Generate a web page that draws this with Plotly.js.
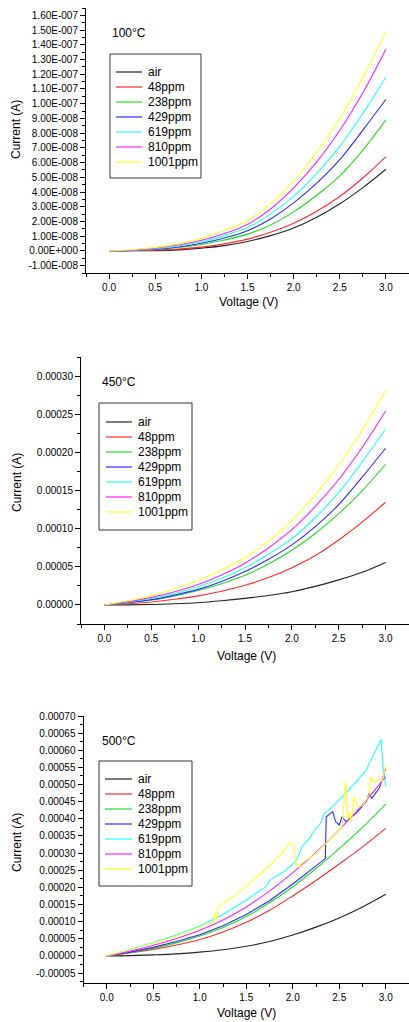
<!DOCTYPE html>
<html><head><meta charset="utf-8">
<script src="https://cdn.plot.ly/plotly-3.0.1.min.js"></script>
<style>html,body{margin:0;padding:0;background:#fff}</style>
</head><body><div id="chart" style="width:409px;height:1022px"></div>
<script>
// ---------- data ----------
const seriesNames = ['air','48ppm','238ppm','429ppm','619ppm','810ppm','1001ppm'];
const seriesColors = ['#222222','#ff2a2a','#22dd22','#2a2aff','#22ffff','#ff22ff','#ffff22'];
const panelTitles = ['100°C','450°C','500°C'];
const voltage = [0,0.25,0.5,0.75,1.0,1.25,1.5,1.75,2.0,2.25,2.5,2.75,3.0];

// 100 °C (values in units of 1e-8 A)
const air100  = [0,0.01,0.02,0.07,0.19,0.36,0.64,1.04,1.55,2.28,3.2,4.3,5.55];
const p48_100 = [0,0.02,0.05,0.12,0.26,0.48,0.8,1.27,1.88,2.7,3.7,4.95,6.4];
const p238_100= [0,0.03,0.1,0.23,0.44,0.74,1.14,1.76,2.65,3.78,5.1,6.85,8.9];
const p429_100= [0,0.04,0.12,0.27,0.52,0.88,1.37,2.17,3.26,4.6,6.2,8.2,10.3];
const p619_100= [0,0.05,0.15,0.33,0.62,1.04,1.6,2.5,3.72,5.27,7.1,9.35,11.8];
const p810_100= [0,0.06,0.19,0.4,0.72,1.18,1.8,2.85,4.28,6.05,8.2,10.75,13.7];
const p1001_100=[0,0.08,0.24,0.48,0.85,1.38,2.05,3.2,4.75,6.7,9.0,11.8,14.9];

// 450 °C (values in units of 1e-5 A)
const air450  = [0,0.02,0.07,0.16,0.3,0.55,0.87,1.25,1.75,2.45,3.3,4.3,5.6];
const p48_450 = [0,0.17,0.4,0.75,1.2,1.8,2.6,3.6,4.9,6.5,8.55,10.9,13.5];
const p238_450= [0,0.3,0.65,1.2,1.9,2.8,3.9,5.4,7.2,9.4,12.0,15.0,18.5];
const p429_450= [0,0.32,0.7,1.3,2.05,3.1,4.4,6.0,7.9,10.3,13.2,16.8,20.6];
const p619_450= [0,0.4,0.85,1.5,2.4,3.5,4.9,6.7,8.7,11.5,14.8,18.8,23.1];
const p810_450= [0,0.45,1.0,1.75,2.7,3.95,5.5,7.5,9.9,12.95,16.5,20.7,25.5];
const p1001_450=[0,0.55,1.2,2.1,3.2,4.6,6.2,8.4,11.1,14.5,18.4,23.0,28.2];

// 500 °C (values in units of 1e-5 A)
const air500  = [0,0.1,0.3,0.6,1.1,1.8,2.8,4.2,6.1,8.4,11.1,14.3,18.0];
const p48_500 = [0,0.9,1.9,3.2,4.8,7.0,9.8,13.3,17.5,22.0,26.8,31.8,37.2];
const p238_500= [0,1.0,2.2,3.8,5.8,8.3,11.5,15.5,20.2,25.5,31.3,37.5,44.3];
const p810_500= [0,1.4,3.1,5.1,7.5,10.5,14.3,18.9,24.3,30.2,36.8,44.1,52.3];
const v429_500 = [0,0.25,0.5,0.75,1.0,1.25,1.5,1.75,2.0,2.25,2.35,2.36,2.43,2.46,2.5,2.53,2.57,2.68,2.79,2.82,2.85,2.93,3.0];
const p429_500 = [0,1.1,2.5,4.2,6.2,8.8,12.1,16.1,21.0,26.4,28.4,40.6,42.1,39.2,38.2,40.6,39.2,41.6,45.0,47.4,46.0,48.9,54.7];
const v619_500 = [0,0.25,0.5,0.75,1.0,1.25,1.5,1.71,1.76,1.9,2.03,2.07,2.1,2.18,2.25,2.3,2.34,2.39,2.57,2.79,2.95,2.97,3.0];
const p619_500 = [0,1.9,3.9,6.1,8.7,12.1,16.3,20.2,22.2,24.5,27.5,29.9,31.9,34.3,37.2,38.7,41.6,42.6,47.4,54.2,63.2,55.2,49.6];
const v1001_500 = [0,0.25,0.5,0.75,1.0,1.15,1.16,1.17,1.18,1.2,1.22,1.5,1.75,1.92,1.96,1.99,2.01,2.04,2.07,2.1,2.25,2.43,2.53,2.57,2.59,2.61,2.63,2.66,2.7,2.76,2.82,2.84,2.88,2.92,2.96,3.0];
const p1001_500 = [0,1.8,3.7,5.8,8.3,10.0,12.5,11.0,10.5,13.9,14.6,20.2,26.3,31.0,32.8,33.0,32.4,26.5,26.0,27.0,29.9,34.8,37.7,50.8,39.6,42.0,39.0,46.5,43.5,44.0,46.9,52.3,50.5,51.5,51.0,55.4];

// tick labels
const xTickVals = [0,0.5,1.0,1.5,2.0,2.5,3.0];
const xTickText = ['0.0','0.5','1.0','1.5','2.0','2.5','3.0'];
const y1TickVals = [-1e-8,0,1e-8,2e-8,3e-8,4e-8,5e-8,6e-8,7e-8,8e-8,9e-8,1e-7,1.1e-7,1.2e-7,1.3e-7,1.4e-7,1.5e-7,1.6e-7];
const y1TickText = ['-1.00E-008','0.00E+000','1.00E-008','2.00E-008','3.00E-008','4.00E-008','5.00E-008','6.00E-008','7.00E-008','8.00E-008','9.00E-008','1.00E-007','1.10E-007','1.20E-007','1.30E-007','1.40E-007','1.50E-007','1.60E-007'];
const y2TickVals = [0,0.00005,0.0001,0.00015,0.0002,0.00025,0.0003];
const y2TickText = ['0.00000','0.00005','0.00010','0.00015','0.00020','0.00025','0.00030'];
const y3TickVals = [-0.00005,0,0.00005,0.0001,0.00015,0.0002,0.00025,0.0003,0.00035,0.0004,0.00045,0.0005,0.00055,0.0006,0.00065,0.0007];
const y3TickText = ['-0.00005','0.00000','0.00005','0.00010','0.00015','0.00020','0.00025','0.00030','0.00035','0.00040','0.00045','0.00050','0.00055','0.00060','0.00065','0.00070'];

// ---------- build ----------
const FONT = 'Liberation Sans, Arial, sans-serif';
const W = 409, H = 1022;
const S8 = 1e-8, S5 = 1e-5;
const panels = [
  {xs:[voltage,voltage,voltage,voltage,voltage,voltage,voltage],
   ys:[air100,p48_100,p238_100,p429_100,p619_100,p810_100,p1001_100], scale:S8, xa:'x', ya:'y',
   smooth:[1,1,1,1,1,1,1],
   title:[110,33], box:[110,201,54,178], item0:72, lineX:[116,142], textX:146},
  {xs:[voltage,voltage,voltage,voltage,voltage,voltage,voltage],
   ys:[air450,p48_450,p238_450,p429_450,p619_450,p810_450,p1001_450], scale:S5, xa:'x2', ya:'y2',
   smooth:[1,1,1,1,1,1,1],
   title:[100,382], box:[99,192,403,530], item0:422, lineX:[106,132], textX:136},
  {xs:[voltage,voltage,voltage,v429_500,v619_500,voltage,v1001_500],
   ys:[air500,p48_500,p238_500,p429_500,p619_500,p810_500,p1001_500], scale:S5, xa:'x3', ya:'y3',
   smooth:[1,1,1,0,0,1,0],
   title:[100,741], box:[99,192,761,886], item0:779, lineX:[105,132], textX:136}
];
const ITEM_GAP = 15;
const traces = [], shapes = [], annotations = [];
const px = v => v / W, py = v => 1 - v / H;

panels.forEach((p, k) => {
  for (let i = 0; i < seriesNames.length; i++) {
    traces.push({
      type:'scatter', mode:'lines', name:seriesNames[i], showlegend:false,
      x:p.xs[i], y:p.ys[i].map(v => v*p.scale),
      xaxis:p.xa, yaxis:p.ya,
      line:{color:seriesColors[i], width:1.1, shape:p.smooth[i] ? 'spline' : 'linear', smoothing:1}
    });
    const yy = p.item0 + i * ITEM_GAP;
    shapes.push({type:'line', xref:'paper', yref:'paper',
      x0:px(p.lineX[0]), x1:px(p.lineX[1]), y0:py(yy), y1:py(yy),
      line:{color:seriesColors[i], width:1.2}});
    annotations.push({text:seriesNames[i], xref:'paper', yref:'paper',
      x:px(p.textX), y:py(yy), xanchor:'left', yanchor:'middle', showarrow:false,
      font:{family:FONT, size:12, color:'#000'}});
  }
  shapes.push({type:'rect', xref:'paper', yref:'paper', layer:'above',
    x0:px(p.box[0]), x1:px(p.box[1]), y0:py(p.box[3]), y1:py(p.box[2]),
    line:{color:'#333', width:1}, fillcolor:'rgba(0,0,0,0)'});
  annotations.push({text:panelTitles[k], xref:'paper', yref:'paper',
    x:px(p.title[0]), y:py(p.title[1]), xanchor:'left', yanchor:'middle', showarrow:false,
    font:{family:FONT, size:12, color:'#000'}});
});

function ann(text, x, y, opts) {
  return Object.assign({text:text, x:px(x), y:py(y), xref:'paper', yref:'paper',
    xanchor:'center', yanchor:'middle',
    showarrow:false, font:{family:FONT, size:12, color:'#000'}}, opts||{});
}
annotations.push(
  ann('Current (A)',16,130,{textangle:-90}),
  ann('Current (A)',17,483,{textangle:-90}),
  ann('Current (A)',17,843,{textangle:-90}),
  ann('Voltage (V)',248,302),
  ann('Voltage (V)',247,656),
  ann('Voltage (V)',247,1013)
);

function xAx(left, anchor) {
  return {domain:[left/W,1], range:[-0.25,3.25], anchor:anchor,
    tickmode:'array', tickvals:xTickVals, ticktext:xTickText,
    ticks:'outside', ticklen:5, tickwidth:1, tickcolor:'#000',
    showline:true, linecolor:'#000', linewidth:1, showgrid:false, zeroline:false,
    minor:{tickmode:'linear', tick0:0, dtick:0.25, ticks:'outside', ticklen:3, tickcolor:'#000', showgrid:false},
    tickfont:{family:FONT, size:10, color:'#000'}};
}
function yAx(top, bottom, range, vals, text, minorD, anchor) {
  return {domain:[1-bottom/H, 1-top/H], range:range, anchor:anchor,
    tickmode:'array', tickvals:vals, ticktext:text,
    ticks:'outside', ticklen:5, tickwidth:1, tickcolor:'#000',
    showline:true, linecolor:'#000', linewidth:1, showgrid:false, zeroline:false,
    minor:{tickmode:'linear', tick0:0, dtick:minorD, ticks:'outside', ticklen:3, tickcolor:'#000', showgrid:false},
    tickfont:{family:FONT, size:10, color:'#000'}};
}

const layout = {
  width:W, height:H, margin:{l:0,r:0,t:0,b:0},
  paper_bgcolor:'#fff', plot_bgcolor:'#fff', showlegend:false,
  font:{family:FONT, color:'#000'},
  xaxis: xAx(86,'y'),
  yaxis: yAx(8,273,[-1.5e-8,1.65e-7],y1TickVals,y1TickText,0.5e-8,'x'),
  xaxis2: xAx(81,'y2'),
  yaxis2: yAx(357,624,[-0.000025,0.000326],y2TickVals,y2TickText,0.000025,'x2'),
  xaxis3: xAx(83.5,'y3'),
  yaxis3: yAx(716,983,[-0.000079,0.0007],y3TickVals,y3TickText,0.000025,'x3'),
  shapes: shapes,
  annotations: annotations
};
Plotly.newPlot('chart', traces, layout, {staticPlot:true, displayModeBar:false});
</script></body></html>
